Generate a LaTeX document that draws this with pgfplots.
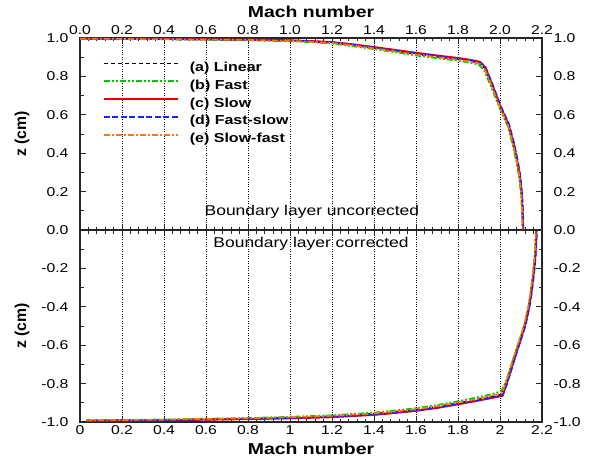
\documentclass[border=0pt]{standalone}
\usepackage{fontspec}
\setmainfont{Liberation Sans}[FakeStretch=1.23]
\newfontfamily\plainfont{Liberation Sans}
\usepackage{pgfplots}
\pgfplotsset{compat=1.18}

\definecolor{lnGreen}{RGB}{0,200,0}
\definecolor{lnRed}{RGB}{235,0,0}
\definecolor{lnBlue}{RGB}{30,30,255}
\definecolor{lnOrange}{RGB}{255,120,0}

\pgfplotsset{
  panel/.style={
    scale only axis, width=462pt, height=192pt,
    xmin=0, xmax=2.2,
    xtick={0,0.2,0.4,0.6,0.8,1,1.2,1.4,1.6,1.8,2,2.2},
    minor x tick num=4, minor y tick num=1,
    tick align=inside, tick pos=both,
    major tick length=6pt, minor tick length=3.5pt,
    xmajorgrids, major grid style={black, dotted, line width=0.8pt},
    axis line style={line width=1.6pt, black!85},
    tick style={line width=0.8pt, black!85},
    ticklabel style={font=\fontsize{12.8}{14}\selectfont},
    /pgf/number format/assume math mode=true,
    yticklabel style={xshift=-8pt},
    label style={font=\bfseries\fontsize{15.8}{18}\selectfont},
    ylabel style={at={(axis description cs:-0.1255,0.5)}, anchor=center,
      font=\plainfont\bfseries\fontsize{15.8}{18}\selectfont},
  },
  rightlab/.style={
    scale only axis, width=462pt, height=192pt,
    xmin=0, xmax=2.2, axis x line=none, axis y line*=right,
    tick align=inside, minor y tick num=1,
    major tick length=6pt, minor tick length=3.5pt,
    axis line style={line width=1.6pt, black!85},
    tick style={line width=0.8pt, black!85},
    ticklabel style={font=\fontsize{12.8}{14}\selectfont},
    /pgf/number format/assume math mode=true,
    yticklabel style={xshift=8pt},
  },
  sA/.style={black, line width=1.6pt, dash pattern=on 4pt off 3pt},
  sB/.style={lnGreen, line width=1.7pt, dash pattern=on 6pt off 2pt on 2pt off 2pt on 2pt off 2pt},
  sC/.style={lnRed, line width=1.9pt},
  sD/.style={lnBlue, line width=1.6pt, dash pattern=on 6pt off 2.5pt},
  sE/.style={lnOrange, line width=1.6pt, dash pattern=on 6pt off 2pt on 2pt off 2pt},
}

\begin{document}
\begin{tikzpicture}

% lower panel: boundary layer corrected
\begin{axis}[panel, name=bot, at={(0pt,0pt)},
    ymin=-1, ymax=0,
    ytick={-1,-0.8,-0.6,-0.4,-0.2,0},
    yticklabels={-1.0,-0.8,-0.6,-0.4,-0.2,{}},
    xlabel={Mach number}, ylabel={z (cm)},
    xlabel style={at={(axis description cs:0.5,-0.141)}, anchor=center},
  ]
\addplot[sA] table {
0.030 -0.992
0.200 -0.991
0.400 -0.989
0.600 -0.985
0.800 -0.982
1.000 -0.977
1.200 -0.970
1.400 -0.957
1.500 -0.947
1.600 -0.935
1.700 -0.920
1.800 -0.901
1.900 -0.881
1.950 -0.870
2.010 -0.856
2.030 -0.798
2.055 -0.710
2.078 -0.630
2.098 -0.563
2.118 -0.493
2.136 -0.403
2.147 -0.328
2.156 -0.248
2.164 -0.168
2.169 -0.080
2.172 0.000
};
\addplot[sB] table {
0.030 -0.991
0.200 -0.989
0.400 -0.987
0.600 -0.983
0.800 -0.979
1.000 -0.973
1.200 -0.965
1.400 -0.951
1.500 -0.940
1.600 -0.928
1.700 -0.912
1.800 -0.892
1.900 -0.870
1.950 -0.858
2.006 -0.840
2.028 -0.790
2.053 -0.705
2.076 -0.626
2.097 -0.560
2.117 -0.490
2.135 -0.400
2.146 -0.326
2.155 -0.246
2.163 -0.166
2.168 -0.080
2.171 0.000
};
\addplot[sC] table {
0.030 -0.994
0.200 -0.993
0.400 -0.991
0.600 -0.988
0.800 -0.985
1.000 -0.981
1.200 -0.975
1.400 -0.963
1.500 -0.953
1.600 -0.942
1.700 -0.927
1.800 -0.908
1.900 -0.888
1.950 -0.877
2.012 -0.864
2.032 -0.800
2.057 -0.712
2.080 -0.632
2.100 -0.565
2.120 -0.495
2.138 -0.405
2.149 -0.330
2.158 -0.250
2.166 -0.170
2.171 -0.080
2.174 0.000
};
\addplot[sD] table {
0.030 -0.993
0.200 -0.992
0.400 -0.990
0.600 -0.987
0.800 -0.984
1.000 -0.980
1.200 -0.973
1.400 -0.961
1.500 -0.951
1.600 -0.940
1.700 -0.925
1.800 -0.906
1.900 -0.886
1.950 -0.875
2.013 -0.861
2.034 -0.800
2.059 -0.712
2.082 -0.632
2.102 -0.565
2.122 -0.495
2.140 -0.405
2.151 -0.330
2.160 -0.250
2.168 -0.170
2.173 -0.080
2.176 0.000
};
\addplot[sE] table {
0.030 -0.992
0.200 -0.990
0.400 -0.988
0.600 -0.984
0.800 -0.981
1.000 -0.975
1.200 -0.968
1.400 -0.955
1.500 -0.945
1.600 -0.933
1.700 -0.918
1.800 -0.899
1.900 -0.878
1.950 -0.866
2.008 -0.850
2.028 -0.795
2.052 -0.708
2.075 -0.628
2.096 -0.560
2.116 -0.490
2.134 -0.400
2.145 -0.326
2.154 -0.246
2.162 -0.166
2.168 -0.080
2.171 0.000
};
\node[font=\fontsize{14.2}{16}\selectfont] at (rel axis cs:0.500,0.927) {Boundary layer corrected};
\end{axis}

\begin{axis}[rightlab, at={(0pt,0pt)}, ymin=-1, ymax=0,
    ytick={-1,-0.8,-0.6,-0.4,-0.2,0},
    yticklabels={-1.0,-0.8,-0.6,-0.4,-0.2,{}}]
\end{axis}

% upper panel: boundary layer uncorrected
\begin{axis}[panel, name=top, at={(0pt,192pt)},
    ymin=0, ymax=1,
    ytick={0,0.2,0.4,0.6,0.8,1},
    yticklabels={0.0,0.2,0.4,0.6,0.8,1.0},
    xticklabel pos=right,
    xticklabels={0.0,0.2,0.4,0.6,0.8,1.0,1.2,1.4,1.6,1.8,2.0,2.2},
    xlabel={Mach number}, ylabel={z (cm)},
    xlabel style={at={(axis description cs:0.5,1.135)}, anchor=center},
    legend style={draw=none, fill=none, at={(0.0498,0.880)}, anchor=north west,
      inner sep=0pt, outer sep=0pt, row sep=3.8pt, column sep=10pt,
      font=\bfseries\fontsize{13}{14}\selectfont,
      nodes={inner sep=1pt, text height=9.5pt, text depth=2.5pt}},
    legend cell align=left,
    legend image code/.code={\draw[#1] (0pt,4.5pt) -- (74pt,4.5pt);},
  ]
\addplot[sA] table {
0.000 0.996
0.200 0.995
0.400 0.994
0.600 0.993
0.800 0.990
1.000 0.986
1.100 0.981
1.200 0.975
1.300 0.962
1.400 0.948
1.500 0.932
1.600 0.916
1.700 0.902
1.800 0.889
1.860 0.879
1.905 0.869
1.928 0.841
1.964 0.748
1.999 0.646
2.039 0.550
2.062 0.456
2.079 0.370
2.094 0.280
2.103 0.180
2.107 0.090
2.109 0.000
};
\addlegendentry{(a) Linear}
\addplot[sB] table {
0.000 0.995
0.200 0.994
0.400 0.993
0.600 0.991
0.800 0.988
1.000 0.983
1.100 0.978
1.200 0.971
1.300 0.957
1.400 0.942
1.500 0.926
1.600 0.909
1.700 0.895
1.800 0.882
1.860 0.871
1.900 0.860
1.924 0.832
1.959 0.742
1.995 0.642
2.035 0.546
2.058 0.452
2.076 0.366
2.091 0.276
2.101 0.176
2.105 0.088
2.107 0.000
};
\addlegendentry{(b) Fast}
\addplot[sC] table {
0.000 0.997
0.200 0.996
0.400 0.995
0.600 0.994
0.800 0.992
1.000 0.988
1.100 0.984
1.200 0.979
1.300 0.967
1.400 0.953
1.500 0.938
1.600 0.923
1.700 0.909
1.800 0.896
1.860 0.886
1.905 0.876
1.930 0.848
1.965 0.750
2.000 0.648
2.040 0.552
2.063 0.458
2.080 0.372
2.095 0.282
2.104 0.182
2.108 0.090
2.110 0.000
};
\addlegendentry{(c) Slow}
\addplot[sD] table {
0.000 0.996
0.200 0.995
0.400 0.994
0.600 0.993
0.800 0.991
1.000 0.987
1.100 0.983
1.200 0.977
1.300 0.965
1.400 0.951
1.500 0.936
1.600 0.920
1.700 0.906
1.800 0.893
1.860 0.883
1.905 0.873
1.932 0.846
1.968 0.750
2.003 0.648
2.043 0.552
2.066 0.458
2.083 0.372
2.097 0.282
2.106 0.182
2.110 0.090
2.112 0.000
};
\addlegendentry{(d) Fast-slow}
\addplot[sE] table {
0.000 0.996
0.200 0.995
0.400 0.994
0.600 0.992
0.800 0.990
1.000 0.985
1.100 0.980
1.200 0.974
1.300 0.961
1.400 0.946
1.500 0.930
1.600 0.914
1.700 0.900
1.800 0.887
1.860 0.877
1.905 0.866
1.927 0.838
1.962 0.746
1.997 0.644
2.037 0.548
2.060 0.454
2.078 0.368
2.093 0.278
2.102 0.178
2.106 0.088
2.108 0.000
};
\addlegendentry{(e) Slow-fast}
\node[font=\fontsize{14.2}{16}\selectfont] at (rel axis cs:0.502,0.094) {Boundary layer uncorrected};
\end{axis}

\begin{axis}[rightlab, at={(0pt,192pt)}, ymin=0, ymax=1,
    ytick={0,0.2,0.4,0.6,0.8,1},
    yticklabels={0.0,0.2,0.4,0.6,0.8,1.0}]
\end{axis}

\pgfresetboundingbox
\path[use as bounding box] (-80pt,-39pt) rectangle (511pt,422pt);
\end{tikzpicture}
\end{document}
